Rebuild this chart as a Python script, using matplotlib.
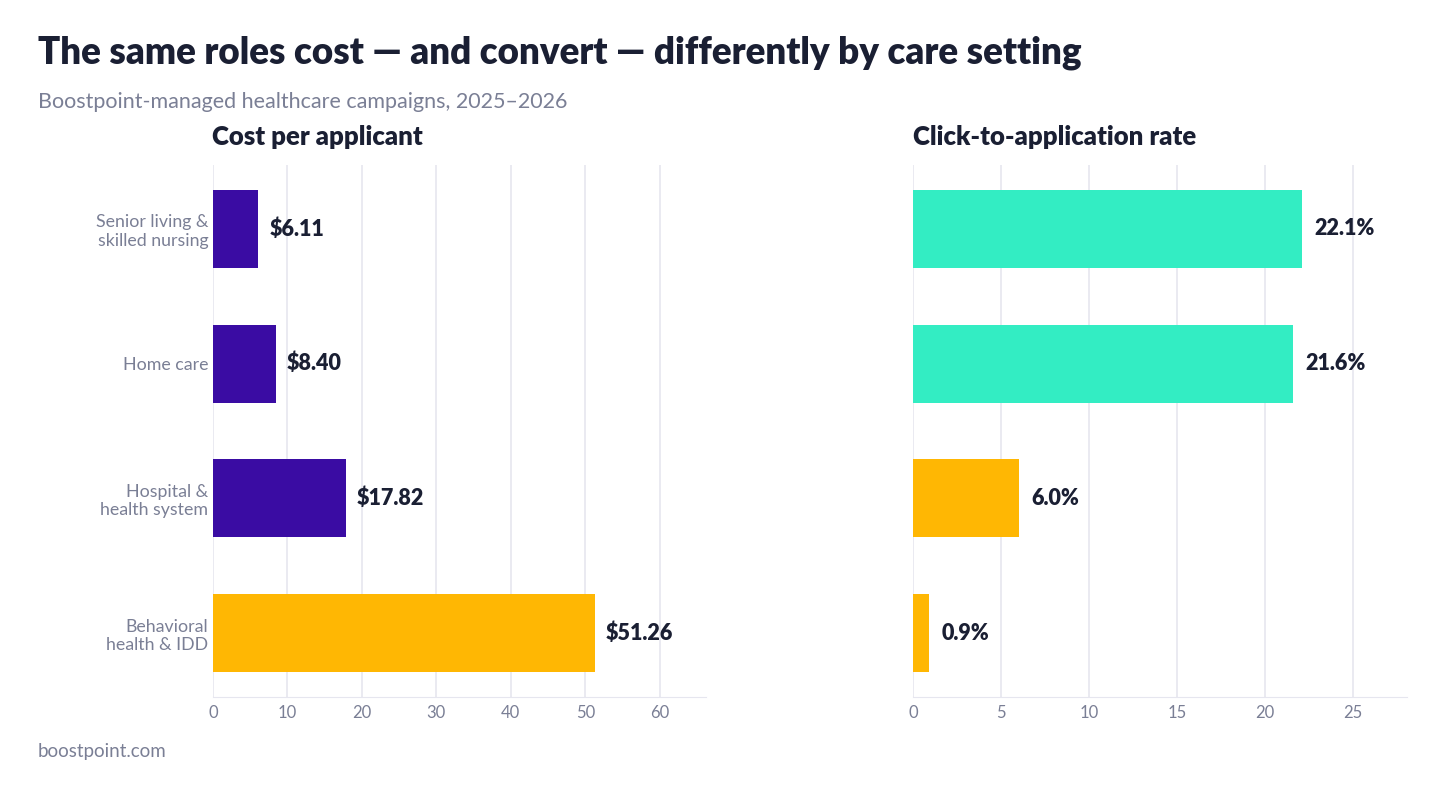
import matplotlib.pyplot as plt

categories = ["Senior living &\nskilled nursing", "Home care", "Hospital &\nhealth system", "Behavioral\nhealth & IDD"]
cost = [6.11, 8.40, 17.82, 51.26]
rate = [22.1, 21.6, 6.0, 0.9]
cost_labels = ["$6.11", "$8.40", "$17.82", "$51.26"]
rate_labels = ["22.1%", "21.6%", "6.0%", "0.9%"]

PURPLE = "#3A0CA3"
TEAL = "#33EDC3"
ORANGE = "#FFB703"
DARK = "#1A1F33"
GREY = "#7A7F95"
GRID = "#E6E6EF"

cost_colors = [PURPLE, PURPLE, PURPLE, ORANGE]
rate_colors = [TEAL, TEAL, ORANGE, ORANGE]

plt.rcParams["font.family"] = ["Lato", "DejaVu Sans"]

fig = plt.figure(figsize=(14.44, 7.97), dpi=100)
ax1 = fig.add_axes([0.1475, 0.1255, 0.3414, 0.6675])
ax2 = fig.add_axes([0.6323, 0.1255, 0.342, 0.6675])


def style(ax, xmax, ticks):
    ax.set_xlim(0, xmax)
    ax.set_ylim(3.474, -0.474)
    ax.set_xticks(ticks)
    ax.grid(axis="x", color=GRID, linewidth=1.2)
    ax.set_axisbelow(True)
    for s in ["top", "right", "left"]:
        ax.spines[s].set_visible(False)
    ax.spines["bottom"].set_color(GRID)
    ax.tick_params(axis="x", colors=GREY, labelsize=12, length=0, pad=6)
    ax.tick_params(axis="y", length=0)


ypos = list(range(len(categories)))

ax1.barh(ypos, cost, height=0.58, color=cost_colors)
style(ax1, 66.2, [0, 10, 20, 30, 40, 50, 60])
ax1.set_yticks(ypos)
ax1.set_yticklabels(categories, color=GREY, fontsize=12.8)
for y, v, lab in zip(ypos, cost, cost_labels):
    ax1.text(v + 1.5, y, lab, va="center", ha="left", fontsize=15.5, fontweight="heavy", color=DARK)

ax2.barh(ypos, rate, height=0.58, color=rate_colors)
style(ax2, 28.07, [0, 5, 10, 15, 20, 25])
ax2.set_yticks([])
for y, v, lab in zip(ypos, rate, rate_labels):
    ax2.text(v + 0.7, y, lab, va="center", ha="left", fontsize=15.5, fontweight="heavy", color=DARK)

fig.text(0.147, 0.818, "Cost per applicant", fontsize=18.5, fontweight="heavy", color=DARK)
fig.text(0.632, 0.818, "Click-to-application rate", fontsize=18.5, fontweight="heavy", color=DARK)
fig.text(0.026, 0.92, "The same roles cost \u2014 and convert \u2014 differently by care setting",
         fontsize=26.5, fontweight="heavy", color=DARK)
fig.text(0.026, 0.864, "Boostpoint-managed healthcare campaigns, 2025\u20132026", fontsize=15.5, color=GREY)
fig.text(0.026, 0.05, "boostpoint.com", fontsize=13.5, color=GREY)

fig.savefig("out.png", dpi=100, facecolor="white")
